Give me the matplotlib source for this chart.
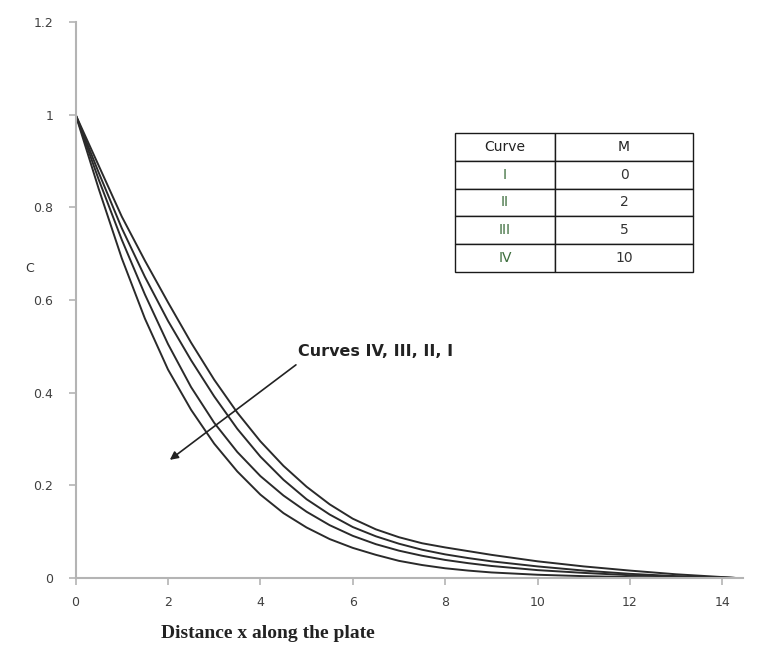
import matplotlib
matplotlib.use("Agg")
import matplotlib.pyplot as plt

# ---- data ----
x_vals = [0, 0.5, 1, 1.5, 2, 2.5, 3, 3.5, 4, 4.5, 5, 5.5, 6, 6.5, 7, 7.5, 8, 8.5,
          9, 10, 11, 12, 13, 14, 14.3]
c_I = [1.0, 0.84, 0.69, 0.56, 0.45, 0.363, 0.29, 0.23, 0.18, 0.14, 0.109, 0.084,
       0.065, 0.05, 0.037, 0.028, 0.021, 0.016, 0.012, 0.007, 0.004, 0.002, 0.001, 0.0, 0.0]
c_II = [1.0, 0.86, 0.73, 0.612, 0.505, 0.412, 0.335, 0.272, 0.22, 0.178, 0.143, 0.114,
        0.091, 0.073, 0.059, 0.048, 0.039, 0.032, 0.026, 0.017, 0.011, 0.006, 0.003, 0.001, 0.0]
c_III = [1.0, 0.875, 0.755, 0.65, 0.555, 0.47, 0.392, 0.322, 0.262, 0.212, 0.17, 0.137,
         0.11, 0.09, 0.074, 0.061, 0.051, 0.043, 0.036, 0.025, 0.016, 0.009, 0.004, 0.001, 0.0]
c_IV = [1.0, 0.89, 0.78, 0.685, 0.595, 0.508, 0.428, 0.357, 0.295, 0.242, 0.197, 0.159,
        0.128, 0.105, 0.088, 0.075, 0.066, 0.058, 0.05, 0.036, 0.025, 0.016, 0.008, 0.002, 0.0]

table_curves = ["I", "II", "III", "IV"]
table_M = ["0", "2", "5", "10"]
x_ticks = [0, 2, 4, 6, 8, 10, 12, 14]
y_ticks = [0, 0.2, 0.4, 0.6, 0.8, 1, 1.2]
y_tick_labels = ["0", "0.2", "0.4", "0.6", "0.8", "1", "1.2"]

fig = plt.figure(figsize=(7.62, 6.52), dpi=100)
ax = fig.add_axes([0.0992, 0.1135, 0.876, 0.8528])

for c in (c_I, c_II, c_III, c_IV):
    ax.plot(x_vals, c, color="#2a2a2a", lw=1.4, solid_capstyle="round",
            solid_joinstyle="round")

ax.set_xlim(0, 14.45)
ax.set_ylim(0, 1.2)
ax.set_xticks(x_ticks)
ax.set_xticklabels([str(t) for t in x_ticks])
ax.set_yticks(y_ticks)
ax.set_yticklabels(y_tick_labels)

for s in ("top", "right"):
    ax.spines[s].set_visible(False)
for s in ("left", "bottom"):
    ax.spines[s].set_color("#b4b4b4")
    ax.spines[s].set_linewidth(1.5)
ax.tick_params(axis="both", direction="out", length=5, width=1.2, color="#b4b4b4",
               labelsize=9, labelcolor="#404040")
ax.tick_params(axis="x", pad=8)
ax.tick_params(axis="y", pad=11)

# axis labels
fig.text(30 / 762, 1 - 268 / 652, "C", fontsize=9, color="#333333", ha="center", va="center")
fig.text(268 / 762, 1 - 634 / 652, "Distance x along the plate", fontsize=14,
         fontweight="bold", family="Liberation Serif", color="#222222",
         ha="center", va="center")

# annotation arrow
ax.annotate("", xy=(2.04, 0.255), xytext=(4.77, 0.46),
            arrowprops=dict(arrowstyle="-|>", color="#222222", lw=1.2,
                            mutation_scale=12, shrinkA=0, shrinkB=0))
ax.text(4.81, 0.488, "Curves IV, III, II, I", fontsize=11.5, fontweight="bold",
        color="#222222", ha="left", va="center")

# table
cell_text = [["Curve", "M"]] + [[c, m] for c, m in zip(table_curves, table_M)]
tbl = ax.table(cellText=cell_text, bbox=[0.5685, 0.5504, 0.3565, 0.25],
               colWidths=[0.42, 0.58], cellLoc="center")
tbl.auto_set_font_size(False)
for (r, cidx), cell in tbl.get_celld().items():
    cell.set_edgecolor("#1a1a1a")
    cell.set_linewidth(1.0)
    cell.set_facecolor("white")
    txt = cell.get_text()
    txt.set_fontsize(10)
    if r == 0:
        txt.set_color("#222222")
    elif cidx == 0:
        txt.set_color("#3d6e3d")
    else:
        txt.set_color("#333333")

fig.savefig("out.png", dpi=100, facecolor="white")
